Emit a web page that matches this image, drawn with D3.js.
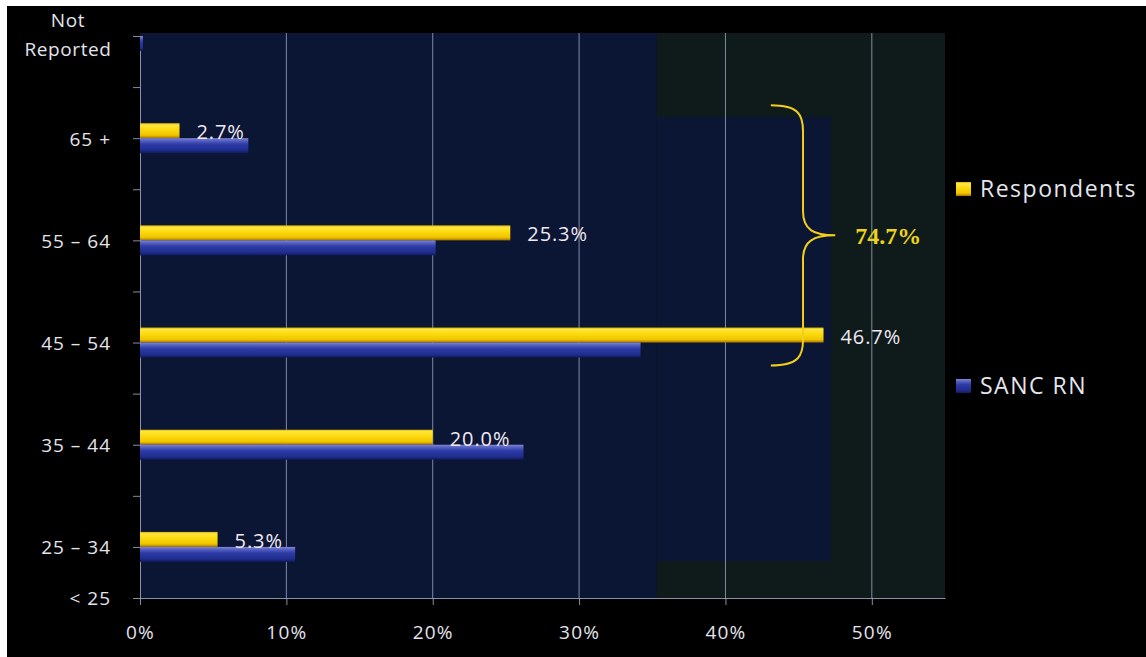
<!DOCTYPE html>
<html>
<head>
<meta charset="utf-8">
<script src="https://cdn.jsdelivr.net/npm/d3@7"></script>
<style>
  html, body { margin: 0; padding: 0; background: #ffffff; }
  svg { display: block; }
  text { font-family: "Open Sans", "Noto Sans", sans-serif; }
</style>
</head>
<body>
<svg id="chart" width="1146" height="657"></svg>
<script>
// Age groups, bottom to top, and the axis slots they sit on
const categories = ["< 25", "25 – 34", "35 – 44", "45 – 54", "55 – 64", "65 +", "Not Reported"];
const axisSlots = ["< 25", "25 – 34", "", "35 – 44", "", "45 – 54", "", "55 – 64", "", "65 +", "", "Not Reported"];

// Share of each age group (%)
const respondents = [0, 5.3, 20.0, 46.7, 25.3, 2.7, 0];
const sancRN = [0, 10.6, 26.2, 34.2, 20.2, 7.4, 0.2];

const xTicks = [0, 10, 20, 30, 40, 50];
const seriesNames = ["Respondents", "SANC RN"];

// Groups summed under the brace
const bracedGroups = ["45 – 54", "55 – 64", "65 +"];

const svg = d3.select("#chart");
const W = 1146, H = 657;
const plot = { left: 140, right: 945, top: 33, bottom: 598 };

// page frame
svg.append("rect").attr("x", 7).attr("y", 6).attr("width", W - 7).attr("height", H - 6).attr("fill", "#000000");

const x = d3.scaleLinear().domain([0, 55]).range([plot.left, plot.right]);
const y = d3.scaleLinear().domain([0, axisSlots.length - 1]).range([plot.bottom, 36]);
const slotOf = c => axisSlots.indexOf(c);

// gradients for the bars
const defs = svg.append("defs");
const gy = defs.append("linearGradient").attr("id", "gYellow").attr("x1", 0).attr("y1", 0).attr("x2", 0).attr("y2", 1);
[[0, "#d9b400"], [0.12, "#ffe640"], [0.45, "#fbd90c"], [0.8, "#efc400"], [1, "#a87400"]].forEach(s =>
  gy.append("stop").attr("offset", s[0]).attr("stop-color", s[1]));
const gb = defs.append("linearGradient").attr("id", "gBlue").attr("x1", 0).attr("y1", 0).attr("x2", 0).attr("y2", 1);
[[0, "#8088d8"], [0.15, "#5a64c4"], [0.4, "#2d3ca6"], [0.8, "#1f2d8e"], [1, "#101a5a"]].forEach(s =>
  gb.append("stop").attr("offset", s[0]).attr("stop-color", s[1]));

// plot area
svg.append("rect")
  .attr("x", plot.left).attr("y", plot.top)
  .attr("width", plot.right - plot.left).attr("height", plot.bottom - plot.top)
  .attr("fill", "#0b1534");

// darker panel behind the brace note
svg.append("rect")
  .attr("x", x(35.3)).attr("y", plot.top)
  .attr("width", plot.right - x(35.3)).attr("height", plot.bottom - plot.top)
  .attr("fill", "#0e1b1a");
svg.append("rect")
  .attr("x", x(35.3)).attr("y", 117)
  .attr("width", x(47.2) - x(35.3)).attr("height", 561 - 117)
  .attr("fill", "#0b1534");

// vertical gridlines
svg.append("g")
  .selectAll("line")
  .data(xTicks.filter(t => t > 0))
  .join("line")
  .attr("x1", d => x(d)).attr("x2", d => x(d))
  .attr("y1", plot.top).attr("y2", plot.bottom)
  .attr("stroke", "#a8b2cc").attr("stroke-opacity", 0.75).attr("stroke-width", 1);

// x axis
const xAxis = svg.append("g")
  .attr("transform", `translate(0,${plot.bottom})`)
  .call(d3.axisBottom(x).tickValues(xTicks).tickFormat(d => d + "%").tickSize(7).tickSizeOuter(0));
xAxis.select(".domain").attr("stroke", "#a8b2cc").attr("stroke-opacity", 0.8);
xAxis.selectAll(".tick line").attr("stroke", "#a8b2cc").attr("stroke-opacity", 0.8);
xAxis.selectAll(".tick text")
  .attr("fill", "#e4e4ec").attr("font-size", 19).attr("letter-spacing", 1.2)
  .attr("y", 0).attr("dy", 0)
  .attr("transform", "translate(0,41)");

// y axis
const yAxis = svg.append("g")
  .attr("transform", `translate(${plot.left},0)`)
  .call(d3.axisLeft(y).tickValues(d3.range(axisSlots.length)).tickFormat(i => axisSlots[i]).tickSize(7).tickSizeOuter(0));
yAxis.select(".domain").attr("stroke", "#a8b2cc").attr("stroke-opacity", 0.8);
yAxis.selectAll(".tick line").attr("stroke", "#a8b2cc").attr("stroke-opacity", 0.8);
yAxis.selectAll(".tick text")
  .attr("fill", "#e4e4ec").attr("font-size", 19).attr("letter-spacing", 1.0)
  .attr("x", -29).attr("dy", "0.36em");
// two-line label for the top slot
yAxis.selectAll(".tick text").filter(i => axisSlots[i] === "Not Reported")
  .each(function () {
    const t = d3.select(this);
    t.text(null).attr("text-anchor", "middle").attr("x", -72).attr("letter-spacing", 0.6).attr("dy", null);
    t.append("tspan").attr("x", -72).attr("dy", "-0.5em").text("Not");
    t.append("tspan").attr("x", -72).attr("dy", "1.55em").text("Reported");
  });

// bars
const rows = categories.map((c, i) => ({ cat: c, slot: slotOf(c), resp: respondents[i], sanc: sancRN[i] }));
const barH = 15;
const bars = svg.append("g");
bars.selectAll("rect.resp")
  .data(rows.filter(d => d.resp > 0))
  .join("rect")
  .attr("class", "resp")
  .attr("x", x(0)).attr("y", d => y(d.slot) - barH)
  .attr("width", d => x(d.resp) - x(0)).attr("height", barH)
  .attr("fill", "url(#gYellow)");
bars.selectAll("rect.sanc")
  .data(rows.filter(d => d.sanc > 0))
  .join("rect")
  .attr("class", "sanc")
  .attr("x", x(0)).attr("y", d => y(d.slot))
  .attr("width", d => x(d.sanc) - x(0)).attr("height", barH)
  .attr("fill", "url(#gBlue)");

// value labels for respondents
svg.append("g")
  .selectAll("text")
  .data(rows.filter(d => d.resp > 0))
  .join("text")
  .attr("x", d => x(d.resp) + 17)
  .attr("y", d => y(d.slot) + 1)
  .attr("fill", "#f2e8f2").attr("font-size", 20).attr("letter-spacing", 0.9)
  .text(d => d.resp.toFixed(1) + "%");

// brace over the 45+ groups
const braceTop = y(slotOf("65 +")) - 33;
const braceBot = y(slotOf("45 – 54")) + 23;
const braceMid = (braceTop + braceBot) / 2;
const bxTip = x(43.1), bxStem = x(45.3), bxPoint = x(47.5);
const brace = d3.path();
brace.moveTo(bxTip, braceTop);
brace.bezierCurveTo(bxStem - 4, braceTop, bxStem, braceTop + 10, bxStem, braceTop + 26);
brace.lineTo(bxStem, braceMid - 24);
brace.bezierCurveTo(bxStem, braceMid - 6, bxStem + 10, braceMid, bxPoint, braceMid);
brace.bezierCurveTo(bxStem + 10, braceMid, bxStem, braceMid + 6, bxStem, braceMid + 24);
brace.lineTo(bxStem, braceBot - 26);
brace.bezierCurveTo(bxStem, braceBot - 10, bxStem - 4, braceBot, bxTip, braceBot);
svg.append("path").attr("d", brace.toString())
  .attr("fill", "none").attr("stroke", "#f2cf1a").attr("stroke-width", 2);

const bracedTotal = d3.sum(rows.filter(d => bracedGroups.includes(d.cat)), d => d.resp);
svg.append("text")
  .attr("x", bxPoint + 20).attr("y", braceMid + 9)
  .attr("fill", "#ecd21e")
  .style("font-family", "'Liberation Serif', 'DejaVu Serif', serif")
  .attr("font-weight", "bold").attr("font-size", 24)
  .text(bracedTotal.toFixed(1) + "%");

// legend
const legend = svg.append("g");
const legendY = [189, 386];
const legendFill = ["url(#gYellow)", "url(#gBlue)"];
seriesNames.forEach((name, i) => {
  legend.append("rect")
    .attr("x", 956).attr("y", legendY[i] - 7)
    .attr("width", 15).attr("height", 14)
    .attr("fill", legendFill[i]);
  legend.append("text")
    .attr("x", 980).attr("y", legendY[i] + 8)
    .attr("fill", "#e4e6ee").attr("font-size", 23).attr("letter-spacing", 1.5)
    .text(name);
});
</script>
</body>
</html>
